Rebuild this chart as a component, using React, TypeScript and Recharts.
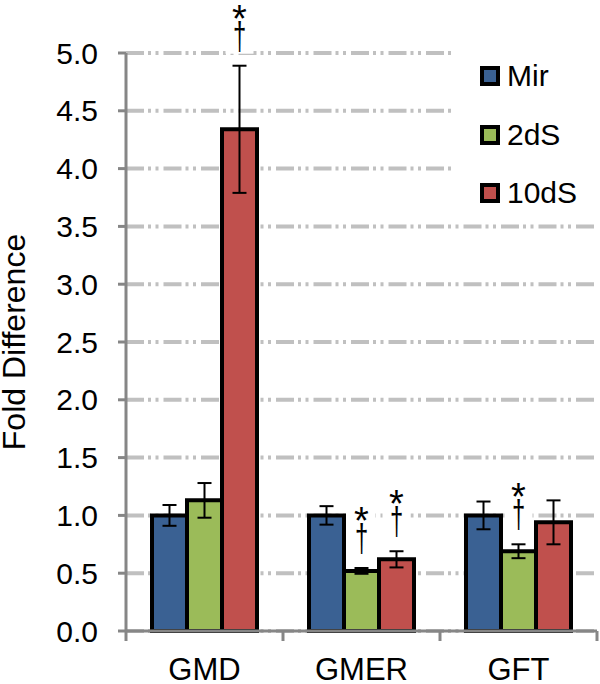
import React from 'react';
import { BarChart, Bar, XAxis, YAxis, CartesianGrid, Legend, ErrorBar, LabelList } from 'recharts';

const genes = ['GMD', 'GMER', 'GFT'];
const mirValues = [1.0, 1.0, 1.0];
const mirErrors = [0.09, 0.08, 0.12];
const dS2Values = [1.13, 0.52, 0.69];
const dS2Errors = [0.15, 0.025, 0.06];
const dS10Values = [4.34, 0.62, 0.94];
const dS10Errors = [0.55, 0.07, 0.19];
const dS2Significant = [false, true, true];
const dS10Significant = [true, true, false];
const yTicks = [0, 0.5, 1.0, 1.5, 2.0, 2.5, 3.0, 3.5, 4.0, 4.5, 5.0];

const series = [
  { key: 'mir', name: 'Mir', color: '#3A6193' },
  { key: 'dS2', name: '2dS', color: '#9BBB59' },
  { key: 'dS10', name: '10dS', color: '#C0504D' },
];

const data = genes.map((g, i) => ({
  gene: g,
  mir: mirValues[i],
  mirErr: mirErrors[i],
  dS2: dS2Values[i],
  dS2Err: dS2Errors[i],
  dS10: dS10Values[i],
  dS10Err: dS10Errors[i],
}));

const FONT = '"Liberation Sans", Arial, sans-serif';
const AXIS = '#868686';

// star + dagger drawn above the error bar
const sigLabel = (errors: number[], sig: boolean[]) => (props: any) => {
  const vb = props.viewBox ?? props;
  const { index, value } = props;
  if (!sig[index] || !value) return null;
  const cx = vb.x + vb.width / 2;
  const errTop = vb.y - (errors[index] * vb.height) / value;
  return (
    <g>
      <rect x={cx - 14} y={errTop - 68} width={28} height={56} fill="#fff" />
      <text x={cx} y={errTop - 34} textAnchor="middle" fontSize={38} fontFamily={FONT} fill="#000">
        *
      </text>
      <text
        transform={`translate(${cx},${errTop - 17}) scale(0.7,1.12)`}
        textAnchor="middle"
        fontSize={34}
        fontFamily={FONT}
        fill="#000"
      >
        †
      </text>
    </g>
  );
};

const CategoryTick = (props: any) => {
  const { x, y, payload, width, visibleTicksCount, index } = props;
  const band = payload?.offset ? payload.offset * 2 : width / visibleTicksCount;
  const left = x - band / 2;
  return (
    <g>
      <line x1={left} x2={left} y1={y} y2={y + 10} stroke={AXIS} strokeWidth={3} />
      {index === visibleTicksCount - 1 && (
        <line x1={left + band} x2={left + band} y1={y} y2={y + 10} stroke={AXIS} strokeWidth={3} />
      )}
      <text x={x} y={y + 49} textAnchor="middle" fontSize={31} fontFamily={FONT} fill="#000">
        {payload.value}
      </text>
    </g>
  );
};

const LegendBox = () => (
  <div style={{ background: '#fff', fontFamily: FONT, fontSize: 30, color: '#000' }}>
    {series.map(s => (
      <div key={s.key} style={{ height: 58.5, display: 'flex', alignItems: 'center' }}>
        <div
          style={{
            width: 12,
            height: 12,
            marginLeft: 25,
            marginRight: 7,
            border: '4px solid #000',
            background: s.color,
          }}
        />
        <span>{s.name}</span>
      </div>
    ))}
  </div>
);

export default function App() {
  return (
    <div style={{ position: 'absolute', left: 0, top: 0, width: 600, height: 684, background: '#fff' }}>
      <BarChart
        width={600}
        height={684}
        data={data}
        margin={{ top: 53, right: 3, bottom: 0, left: 0 }}
        barCategoryGap={26}
        barGap={0}
      >
        <CartesianGrid
          vertical={false}
          stroke="#C0C0C0"
          strokeWidth={4}
          strokeDasharray="18 4 3 4.5 3 5"
        />
        <XAxis
          dataKey="gene"
          height={53}
          axisLine={{ stroke: AXIS, strokeWidth: 3 }}
          tickLine={false}
          tickSize={0}
          tickMargin={0}
          tick={<CategoryTick />}
          interval={0}
        />
        <YAxis
          width={126}
          domain={[0, 5]}
          ticks={yTicks}
          interval={0}
          tickFormatter={(v: number) => v.toFixed(1)}
          axisLine={{ stroke: AXIS, strokeWidth: 3 }}
          tickLine={{ stroke: AXIS, strokeWidth: 3 }}
          tickSize={8}
          tickMargin={20}
          tick={{ fontSize: 30, fontFamily: FONT, fill: '#000' }}
          label={{
            content: (p: any) => {
              const vb = p.viewBox;
              return (
                <text
                  transform={`translate(${vb.x + 25},${vb.y + vb.height / 2}) rotate(-90)`}
                  textAnchor="middle"
                  fontSize={32}
                  fontFamily={FONT}
                  fill="#000"
                >
                  Fold Difference
                </text>
              );
            },
          }}
        />
        <Legend
          layout="vertical"
          verticalAlign="middle"
          align="center"
          content={<LegendBox />}
          wrapperStyle={{ position: 'absolute', left: 455, top: 47, width: 145 }}
        />
        <Bar dataKey="mir" name="Mir" fill={series[0].color} stroke="#000" strokeWidth={4} isAnimationActive={false}>
          <ErrorBar dataKey="mirErr" width={7} stroke="#000" strokeWidth={2} />
        </Bar>
        <Bar dataKey="dS2" name="2dS" fill={series[1].color} stroke="#000" strokeWidth={4} isAnimationActive={false}>
          <ErrorBar dataKey="dS2Err" width={7} stroke="#000" strokeWidth={2} />
          <LabelList dataKey="dS2" content={sigLabel(dS2Errors, dS2Significant)} />
        </Bar>
        <Bar dataKey="dS10" name="10dS" fill={series[2].color} stroke="#000" strokeWidth={4} isAnimationActive={false}>
          <ErrorBar dataKey="dS10Err" width={7} stroke="#000" strokeWidth={2} />
          <LabelList dataKey="dS10" content={sigLabel(dS10Errors, dS10Significant)} />
        </Bar>
      </BarChart>
    </div>
  );
}
